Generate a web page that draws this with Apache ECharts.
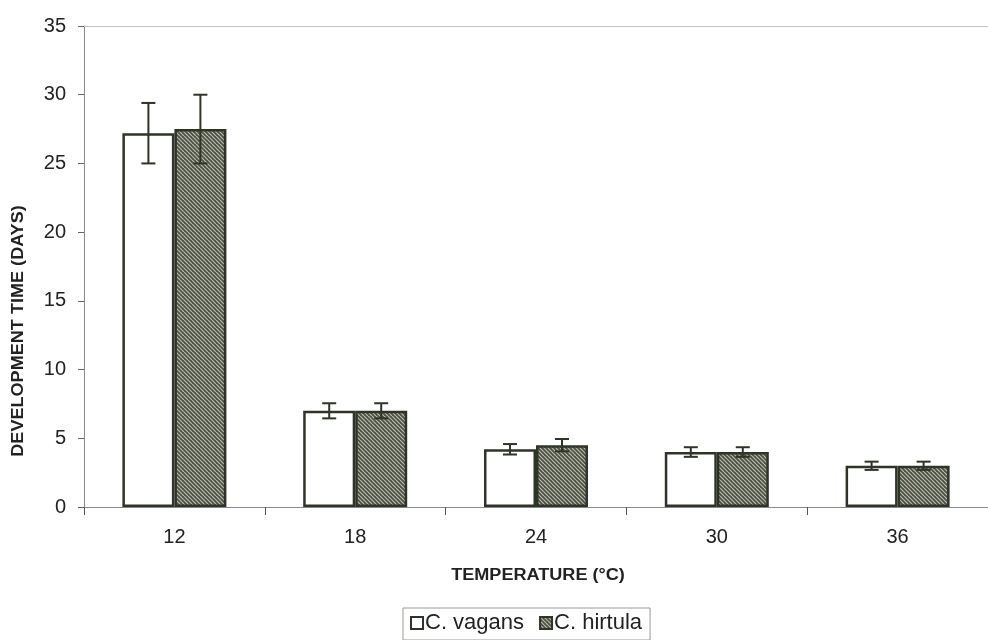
<!DOCTYPE html>
<html>
<head>
<meta charset="utf-8">
<script src="https://cdn.jsdelivr.net/npm/echarts@6/dist/echarts.min.js"></script>
<style>html,body{margin:0;padding:0;background:#fff;}#c{width:988px;height:640px;}</style>
</head>
<body>
<div id="c"></div>
<script>
const categories = ['12', '18', '24', '30', '36'];
const vagans = [27.2, 7.0, 4.2, 4.0, 3.0];
const vagansErr = [2.2, 0.55, 0.38, 0.35, 0.3];
const hirtula = [27.5, 7.0, 4.5, 4.0, 3.0];
const hirtulaErr = [2.5, 0.55, 0.45, 0.35, 0.3];
const yTicks = [0, 5, 10, 15, 20, 25, 30, 35];
const xTitle = 'TEMPERATURE (°C)';
const yTitle = 'DEVELOPMENT TIME (DAYS)';

const dark = '#2f3428';
const pc = document.createElement('canvas');
pc.width = 8; pc.height = 8;
const g = pc.getContext('2d');
g.fillStyle = '#4c5043';
g.fillRect(0, 0, 8, 8);
g.strokeStyle = '#b9bbac';
g.lineWidth = 1.2;
for (let k = -8; k <= 8; k += 4) {
  g.beginPath();
  g.moveTo(k, 0);
  g.lineTo(k + 8, 8);
  g.stroke();
}
const hatch = { image: pc, repeat: 'repeat' };

function errSeries(vals, errs, offset) {
  return {
    type: 'custom',
    silent: true,
    z: 5,
    data: vals.map((v, i) => [i, v, errs[i]]),
    renderItem: function (params, api) {
      const i = api.value(0), v = api.value(1), e = api.value(2);
      const top = api.coord([i, v + e]);
      const bot = api.coord([i, v - e]);
      const x = top[0] + offset;
      const hw = 7;
      const st = { stroke: dark, lineWidth: 2 };
      return {
        type: 'group',
        children: [
          { type: 'line', shape: { x1: x, y1: top[1], x2: x, y2: bot[1] }, style: st },
          { type: 'line', shape: { x1: x - hw, y1: top[1], x2: x + hw, y2: top[1] }, style: st },
          { type: 'line', shape: { x1: x - hw, y1: bot[1], x2: x + hw, y2: bot[1] }, style: st }
        ]
      };
    }
  };
}

const font = 'Liberation Sans, Arial, sans-serif';
const chart = echarts.init(document.getElementById('c'));
chart.setOption({
  animation: false,
  textStyle: { fontFamily: font },
  grid: { left: 84, right: -4, top: 26, bottom: 133 },
  legend: {
    left: 403, top: 608,
    itemWidth: 12, itemHeight: 12, itemGap: 15,
    padding: [4, 8, 6, 7],
    borderColor: '#9a9a9a', borderWidth: 1,
    textStyle: { fontSize: 22, color: '#222', padding: [0, 0, 0, -3] },
    data: [
      { name: 'C. vagans', icon: 'rect' },
      { name: 'C. hirtula', icon: 'rect' }
    ]
  },
  graphic: [
    {
      type: 'text', x: 538, y: 576, scaleX: 1.13,
      style: { text: xTitle, font: 'bold 16px ' + font, fill: '#222', align: 'center', verticalAlign: 'middle' }
    },
    {
      type: 'text', x: 19, y: 331, rotation: Math.PI / 2, scaleX: 1.13,
      style: { text: yTitle, font: 'bold 16px ' + font, fill: '#222', align: 'center', verticalAlign: 'middle' }
    }
  ],
  xAxis: [
    {
      type: 'category',
      data: categories,
      axisLine: { lineStyle: { color: '#8a8a8a', width: 1 } },
      axisTick: { show: true, length: 8, lineStyle: { color: '#555' } },
      axisLabel: { fontSize: 20, color: '#222', margin: 20 }
    },
    {
      type: 'category',
      data: categories,
      position: 'top',
      axisLine: { lineStyle: { color: '#c4c4c4', width: 1 } },
      axisTick: { show: false },
      axisLabel: { show: false }
    }
  ],
  yAxis: {
    type: 'value',
    min: 0, max: 35, interval: 5,
    axisLine: { show: true, lineStyle: { color: '#8a8a8a', width: 1 } },
    axisTick: { show: true, length: 6, lineStyle: { color: '#666' } },
    axisLabel: { fontSize: 20, color: '#222', margin: 18,
      formatter: v => yTicks.includes(v) ? String(v) : '' },
    splitLine: { show: false }
  },
  series: [
    {
      name: 'C. vagans', type: 'bar', data: vagans,
      barWidth: 52, barGap: '0%',
      itemStyle: { color: '#ffffff', borderColor: dark, borderWidth: 2.5 }
    },
    {
      name: 'C. hirtula', type: 'bar', data: hirtula,
      barWidth: 52, barGap: '0%',
      itemStyle: { color: hatch, borderColor: dark, borderWidth: 2.5 }
    },
    errSeries(vagans, vagansErr, -26),
    errSeries(hirtula, hirtulaErr, 26)
  ]
});
</script>
</body>
</html>
